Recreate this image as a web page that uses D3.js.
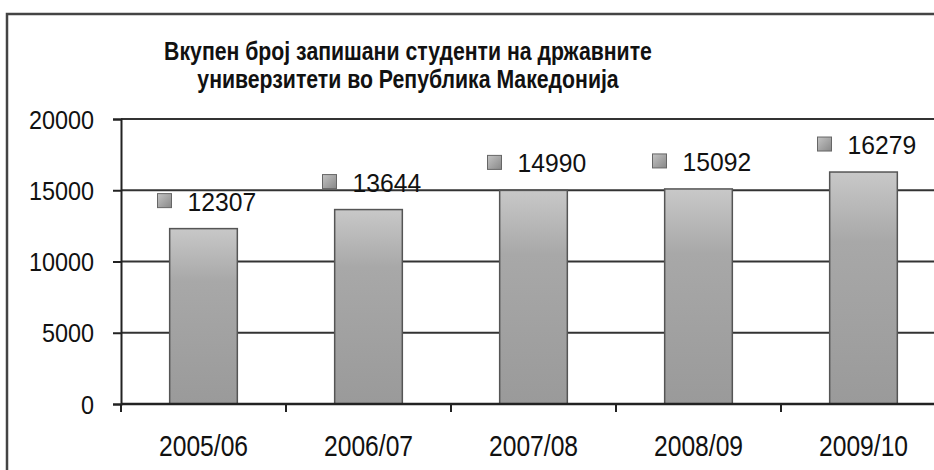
<!DOCTYPE html>
<html>
<head>
<meta charset="utf-8">
<script src="https://cdn.jsdelivr.net/npm/d3@7"></script>
<style>
  body { margin: 0; background: #fff; }
  svg { font-family: Arial, "Liberation Sans", sans-serif; }
  .title { font-weight: bold; font-size: 25px; fill: #111; }
  .tick text { font-size: 26px; fill: #111; }
  .vlabel { font-size: 26px; fill: #111; }
  .xlabel { font-size: 29px; fill: #111; }
</style>
</head>
<body>
<svg width="934" height="470"></svg>
<script>
const YEARS = ['2005/06', '2006/07', '2007/08', '2008/09', '2009/10'];
const STUDENTS = [12307, 13644, 14990, 15092, 16279];
const Y_TICKS = [0, 5000, 10000, 15000, 20000];
const TITLE = ['Вкупен број запишани студенти на државните', 'универзитети во Република Македонија'];

const PARAMS = { left: 121, right: 946, top: 119, bottom: 404 };

const svg = d3.select('svg');

// outer frame, cut off at the right and bottom like in the picture
svg.append('rect')
    .attr('x', 7).attr('y', 14)
    .attr('width', 1000).attr('height', 1000)
    .attr('fill', 'none').attr('stroke', '#444').attr('stroke-width', 2.5);

const defs = svg.append('defs');
const grad = defs.append('linearGradient')
    .attr('id', 'barFill').attr('x1', 0).attr('y1', 0).attr('x2', 0).attr('y2', 1);
grad.append('stop').attr('offset', '0%').attr('stop-color', '#c8c8c8');
grad.append('stop').attr('offset', '30%').attr('stop-color', '#a8a8a8');
grad.append('stop').attr('offset', '100%').attr('stop-color', '#9a9a9a');

const keyGrad = defs.append('linearGradient')
    .attr('id', 'keyFill').attr('x1', 0).attr('y1', 0).attr('x2', 1).attr('y2', 1);
keyGrad.append('stop').attr('offset', '0%').attr('stop-color', '#c4c4c4');
keyGrad.append('stop').attr('offset', '100%').attr('stop-color', '#888');

// the original text is a bit condensed, so squeeze it horizontally
svg.selectAll('.title')
    .data(TITLE)
    .enter()
    .append('text')
    .classed('title', true)
    .attr('transform', (d, i) => `translate(408,${60 + i * 28}) scale(0.85,1)`)
    .attr('text-anchor', 'middle')
    .text(d => d);

const x = d3.scaleBand()
    .domain(YEARS)
    .range([PARAMS.left, PARAMS.right])
    .paddingInner(0.59)
    .paddingOuter(0.295);

const y = d3.scaleLinear()
    .domain([0, 20000])
    .range([PARAMS.bottom, PARAMS.top]);

// gridlines
svg.selectAll('.grid')
    .data(Y_TICKS.slice(1))
    .enter()
    .append('line')
    .attr('x1', PARAMS.left).attr('x2', 934)
    .attr('y1', d => y(d)).attr('y2', d => y(d))
    .attr('stroke', '#333').attr('stroke-width', 2);

// y axis
const yAxis = svg.append('g')
    .attr('transform', `translate(${PARAMS.left},0)`)
    .call(d3.axisLeft(y).tickValues(Y_TICKS).tickFormat(d3.format('d')).tickSize(8).tickPadding(22));
yAxis.select('.domain').attr('stroke', '#222').attr('stroke-width', 2);
yAxis.selectAll('.tick line').attr('stroke', '#222').attr('stroke-width', 2);
yAxis.selectAll('.tick text').attr('dy', '0.35em').attr('transform', 'scale(0.9,1)');

// bars
svg.selectAll('.bar')
    .data(STUDENTS)
    .enter()
    .append('rect')
    .classed('bar', true)
    .attr('x', (d, i) => x(YEARS[i]))
    .attr('width', x.bandwidth())
    .attr('y', d => y(d))
    .attr('height', d => y(0) - y(d))
    .attr('fill', 'url(#barFill)')
    .attr('stroke', '#555').attr('stroke-width', 1.5);

// x axis: ticks between categories
const bandStep = x.step();
const boundaries = YEARS.map((c, i) => PARAMS.left + i * bandStep);
svg.append('line')
    .attr('x1', PARAMS.left).attr('x2', 934)
    .attr('y1', y(0)).attr('y2', y(0))
    .attr('stroke', '#222').attr('stroke-width', 2.5);
svg.selectAll('.xtick')
    .data(boundaries)
    .enter()
    .append('line')
    .attr('x1', d => d).attr('x2', d => d)
    .attr('y1', y(0)).attr('y2', y(0) + 8)
    .attr('stroke', '#222').attr('stroke-width', 2);
svg.selectAll('.xlabel')
    .data(YEARS)
    .enter()
    .append('text')
    .classed('xlabel', true)
    .attr('transform', d => `translate(${x(d) + x.bandwidth() / 2},456) scale(0.85,1)`)
    .attr('text-anchor', 'middle')
    .text(d => d);

// value labels with legend key
const labels = svg.selectAll('.vl')
    .data(STUDENTS)
    .enter()
    .append('g')
    .attr('transform', (d, i) => `translate(${x(YEARS[i]) + x.bandwidth() / 2 + 4},${y(d) - 28})`);
labels.append('rect')
    .attr('x', -50).attr('y', -7)
    .attr('width', 14).attr('height', 14)
    .attr('fill', 'url(#keyFill)')
    .attr('stroke', '#666').attr('stroke-width', 1);
labels.append('text')
    .classed('vlabel', true)
    .attr('transform', 'translate(-20,10) scale(0.95,1)')
    .text(d => d);
</script>
</body>
</html>
